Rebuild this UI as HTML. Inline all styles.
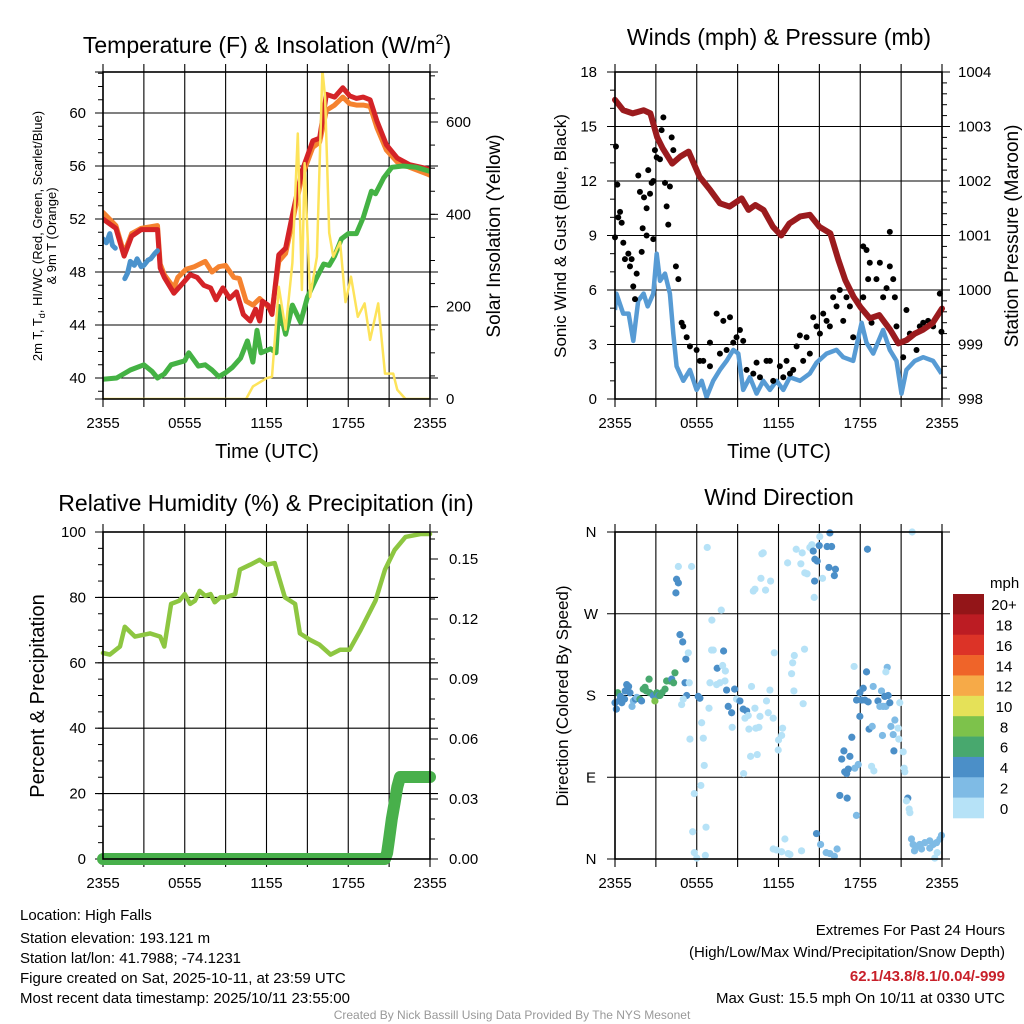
<!DOCTYPE html>
<html><head><meta charset="utf-8"><style>
html,body{margin:0;padding:0;background:#fff;}
svg{display:block;font-family:"Liberation Sans",Arial,sans-serif;}
</style></head><body>
<svg id="fig" width="1024" height="1024" viewBox="0 0 1024 1024" xmlns="http://www.w3.org/2000/svg">
<rect width="1024" height="1024" fill="#fff"/>
<text x="267" y="53" font-size="23" text-anchor="middle">Temperature (F) &amp; Insolation (W/m<tspan dy="-9" font-size="14">2</tspan><tspan dy="9">)</tspan></text>
<text x="779" y="45" font-size="23" text-anchor="middle">Winds (mph) &amp; Pressure (mb)</text>
<text x="266" y="511" font-size="23" text-anchor="middle">Relative Humidity (%) &amp; Precipitation (in)</text>
<text x="779" y="505" font-size="23" text-anchor="middle">Wind Direction</text>
<text x="267" y="458" font-size="20" text-anchor="middle">Time (UTC)</text>
<text x="779" y="458" font-size="20" text-anchor="middle">Time (UTC)</text>
<text transform="translate(42,236) rotate(-90)" font-size="13" text-anchor="middle">2m T, T<tspan dy="3" font-size="9">d</tspan><tspan dy="-3">, HI/WC (Red, Green, Scarlet/Blue)</tspan></text>
<text transform="translate(56,236) rotate(-90)" font-size="13" text-anchor="middle">&amp; 9m T (Orange)</text>
<text transform="translate(500,236) rotate(-90)" font-size="19" text-anchor="middle">Solar Insolation (Yellow)</text>
<text transform="translate(566,236) rotate(-90)" font-size="17" text-anchor="middle">Sonic Wind &amp; Gust (Blue, Black)</text>
<text transform="translate(1018,236) rotate(-90)" font-size="19" text-anchor="middle">Station Pressure (Maroon)</text>
<text transform="translate(44,696) rotate(-90)" font-size="20" text-anchor="middle">Percent &amp; Precipitation</text>
<text transform="translate(568,696) rotate(-90)" font-size="17" text-anchor="middle">Direction (Colored By Speed)</text>
<g font-size="15">
<text x="20" y="920">Location: High Falls</text>
<text x="20" y="943">Station elevation: 193.121 m</text>
<text x="20" y="963">Station lat/lon: 41.7988; -74.1231</text>
<text x="20" y="983">Figure created on Sat, 2025-10-11, at 23:59 UTC</text>
<text x="20" y="1003">Most recent data timestamp: 2025/10/11 23:55:00</text>
</g>
<g font-size="15" text-anchor="end">
<text x="1005" y="935">Extremes For Past 24 Hours</text>
<text x="1005" y="957">(High/Low/Max Wind/Precipitation/Snow Depth)</text>
<text x="1005" y="981" fill="#c8202a" font-weight="bold">62.1/43.8/8.1/0.04/-999</text>
<text x="1005" y="1003">Max Gust: 15.5 mph On 10/11 at 0330 UTC</text>
</g>
<text x="512" y="1019" font-size="12" fill="#999" text-anchor="middle">Created By Nick Bassill Using Data Provided By The NYS Mesonet</text>
<g id="plots"></g>
</svg>
<script>
// ---------- data ----------
const xTickLabels = ["2355","0555","1155","1755","2355"];
const tempTicks = [40,44,48,52,56,60];
const insolTicks = [0,200,400,600];
const windTicks = [0,3,6,9,12,15,18];
const presTicks = [998,999,1000,1001,1002,1003,1004];
const rhTicks = [0,20,40,60,80,100];
const precipTicks = ["0.00","0.03","0.06","0.09","0.12","0.15"];
const dirTicks = ["N","E","S","W","N"];
const speedBins = ["0","2","4","6","8","10","12","14","16","18","20+"];

const redHours = [0,0.95,1.55,2.1,2.8,4.0,4.2,4.5,5.2,5.9,6.4,6.9,7.4,7.9,8.3,8.8,9.3,9.8,10.3,10.8,11.2,11.5,11.7,12.1,12.4,12.9,13.4,13.9,14.6,15.4,15.9,16.4,17.0,17.6,18.1,18.6,19.1,19.6,20.1,20.8,21.6,22.5,23.8,24];
const redTemp  = [52,51.3,49.2,50.7,51.2,51.2,48.3,47.6,46.4,47.2,47.8,47.6,47.0,46.8,45.9,46.8,46.0,46.5,44.8,44.3,45.2,44.3,45.8,45.5,44.8,49.3,49.8,52.3,55.6,57.9,58.1,61.4,61.2,61.9,61.3,61.1,61.2,61.0,59.4,57.6,56.6,56.1,55.8,55.7];
const orangeHours = [0,0.95,1.55,2.1,2.8,4.0,4.2,4.5,5.2,5.5,6.1,6.7,7.5,8.0,8.5,9.0,9.6,10.0,10.5,11.0,11.5,12.0,12.4,12.9,13.4,13.9,14.6,15.4,15.9,16.4,17.0,17.6,18.1,18.6,19.1,19.6,20.1,20.8,21.6,22.5,23.8,24];
const orangeTemp  = [52.5,51.5,49.4,50.9,51.3,51.5,48.6,47.8,46.8,47.6,48.2,48.4,48.8,48.0,48.4,48.5,47.6,47.5,45.8,45.5,46.0,45.5,45.0,48.8,49.4,51.8,55.2,57.4,57.8,60.2,60.6,61.2,60.7,60.6,60.6,60.5,58.9,57.2,56.3,55.9,55.4,55.3];
const blueHours1 = [0,0.25,0.5,0.7,0.9];
const blueTemp1  = [50.5,50.2,50.9,50.0,49.8];
const blueHours2 = [1.6,1.8,2.0,2.3,2.5,2.8,3.0,3.3,3.5,3.8,4.0];
const blueTemp2  = [47.5,47.9,48.8,48.5,49.0,48.4,48.5,48.9,49.0,49.4,49.6];
const greenHours = [0,1,2,3,3.6,4.0,4.5,5.0,6.0,6.3,7.0,7.5,8.0,8.5,9.0,9.5,10.1,10.6,11.0,11.3,11.6,12.3,12.7,12.9,13.4,13.9,14.5,15.0,15.6,16.2,16.6,17.0,17.5,18.0,18.6,19.1,19.7,20.0,20.6,21.2,22.0,23.0,24];
const greenTemp  = [39.9,40.0,40.6,41.0,40.5,40.0,40.3,41.0,41.3,41.9,40.9,41.0,40.6,40.1,40.4,40.8,41.5,42.8,41.2,43.6,41.9,42.2,41.9,45.4,43.3,45.5,44.2,46.1,47.4,48.6,48.5,49.2,50.5,50.9,50.9,52.1,54.1,53.9,55.1,55.9,56.0,55.9,55.6];
const insolHours = [0,10.5,11.0,12.0,12.4,12.9,13.4,13.9,14.3,14.6,14.8,15.2,15.7,16.1,16.3,16.6,16.9,17.4,17.8,18.2,18.7,19.2,19.6,20.2,20.7,21.3,21.6,22.2,24];
const insolWm2   = [0,0,27,45,48,243,150,295,575,236,511,221,308,713,654,360,308,340,210,265,178,207,128,207,55,55,20,0,0];

const presHours = [0,0.6,1.3,2.1,2.6,3.1,3.5,4.2,4.8,5.4,6.2,7.0,7.7,8.4,9.3,9.8,10.3,10.9,11.6,12.2,12.8,13.6,14.3,15.0,15.8,16.4,16.9,17.5,18.0,18.7,19.4,20.2,20.8,21.4,22.0,22.6,23.3,24];
const presMb = [1003.49,1003.3,1003.24,1003.3,1003.24,1002.8,1002.6,1002.32,1002.45,1002.54,1002.08,1001.83,1001.59,1001.53,1001.68,1001.47,1001.56,1001.47,1001.16,1001.0,1001.22,1001.35,1001.38,1001.16,1001.04,1000.55,1000.18,999.88,999.69,999.48,999.54,999.27,999.02,999.08,999.2,999.27,999.39,999.66];
const windHours = [0,0.1,0.6,1.0,1.34,1.7,2.1,2.4,2.81,3.06,3.3,3.67,4.03,4.28,4.52,5.01,5.5,5.99,6.36,6.72,7.21,7.7,8.19,8.68,9.05,9.41,9.9,10.39,10.88,11.37,11.86,12.35,12.84,13.57,14.3,14.79,15.53,16.26,16.75,17.48,18.1,18.46,18.95,19.68,20.17,20.66,21.03,21.39,22.0,22.62,23.35,23.96];
const windMph = [4.9,5.8,4.7,4.7,3.2,5.4,5.8,5.1,5.8,8.0,6.5,6.9,5.8,3.6,1.8,1.0,1.6,0.5,1.0,0.1,1.0,1.6,2.1,2.7,2.5,0.5,1.2,0.3,1.0,0.5,1.0,0.5,1.2,1.0,1.4,2.0,2.5,2.7,2.3,2.1,4.2,3.1,2.5,3.8,2.7,2.1,0.3,1.6,2.1,2.3,2.1,1.4];
const gustHours = [0,0.07,0.17,0.24,0.37,0.49,0.61,0.73,0.98,1.1,1.22,1.34,1.47,1.59,1.71,1.83,1.96,2.03,2.13,2.32,2.32,2.44,2.57,2.69,2.81,2.81,2.93,3.06,3.3,3.42,3.55,3.67,3.79,3.91,4.03,4.16,4.28,4.47,4.65,4.89,5.01,5.26,5.5,5.99,6.23,6.48,6.97,6.97,7.46,7.7,7.95,8.19,8.44,8.68,8.92,9.17,9.41,9.66,10.15,10.39,10.64,11.12,11.37,11.61,12.1,12.35,12.59,12.84,13.08,13.33,13.57,13.81,14.06,14.3,14.55,14.79,15.04,15.28,15.53,15.77,16.01,16.26,16.5,16.75,16.99,17.24,17.48,17.73,18.22,18.22,18.46,18.58,18.7,18.83,19.19,19.44,19.68,19.93,20.17,20.42,20.54,20.17,20.66,21.15,21.39,21.64,22.13,22.37,22.62,22.98,23.35,23.84,23.96];
const gustMph = [8.9,13.9,11.8,10.0,10.3,9.7,8.6,7.7,8.0,7.3,7.7,6.2,5.5,6.9,12.3,11.4,8.1,9.4,11.1,10.5,9.0,12.6,11.3,11.9,8.8,12.0,13.7,13.3,13.2,14.8,15.5,11.9,10.6,9.6,11.7,14.4,13.7,7.3,6.6,4.2,4.0,3.4,2.9,2.7,2.1,2.1,3.1,1.8,4.7,2.5,4.3,2.7,4.5,3.1,3.4,3.8,3.2,1.6,1.4,2.0,1.2,2.1,2.1,1.0,1.8,1.2,2.1,1.4,1.6,2.9,3.5,2.1,3.4,2.5,4.5,4.0,3.6,4.7,4.3,4.0,5.6,5.1,6.0,4.3,5.6,5.1,3.4,5.4,8.4,5.6,8.2,6.6,7.5,4.2,6.6,7.5,5.6,6.1,7.3,6.6,5.6,9.2,4.0,2.3,4.9,3.6,2.7,4.0,4.2,4.3,4.0,5.8,3.7];

const rhHours = [0,0.5,1.25,1.6,2.35,3.45,4.2,4.5,5.0,5.6,6.0,6.4,6.75,7.1,7.5,7.9,8.2,8.6,9.0,9.7,10.05,10.8,11.5,12.0,12.6,13.35,14.1,14.45,15.2,15.9,16.7,17.4,18.1,18.9,20.0,20.7,21.4,22.2,23.3,24];
const rhPct = [63,62.5,65,71,68,69,68,65,78,79,81,78,79,82,80.5,81,78.5,80,80,81,88.5,90,91.5,90,90.5,80,78,69,67,65.5,62.5,64,64,70,79,88.5,94.5,98.5,99.4,99.4];
const precipHours = [0,20.7,20.85,21.0,21.2,21.4,21.6,21.8,22.2,24];
const precipIn = [0,0,0.003,0.01,0.02,0.028,0.036,0.041,0.041,0.041];

const dirHours = [0,0.1,0.2,0.3,0.4,0.5,0.7,0.75,0.86,1.0,1.1,1.25,1.35,1.5,1.6,1.83,1.95,2.07,2.2,2.3,2.5,2.55,2.81,2.93,3.06,3.2,3.3,3.45,3.67,3.79,4.03,4.16,4.4,4.3,4.47,4.52,4.65,4.65,4.77,4.97,5.2,5.38,5.14,5.45,5.26,4.89,5.01,5.62,5.5,5.82,5.7,5.82,6.0,6.11,6.23,6.36,6.48,6.55,6.3,6.68,6.63,6.77,6.9,6.97,7.09,7.21,7.11,7.8,7.46,7.7,8.07,7.5,7.9,7.97,8.1,8.19,8.31,8.56,8.6,8.78,8.92,9.17,9.41,9.66,9.54,9.78,9.83,10.34,10.56,9.95,10.44,9.44,10.27,10.64,11.12,11.25,11.61,10.02,11.37,10.15,10.27,10.71,11.05,11.42,10.78,10.88,11.69,12.3,12.23,12.0,11.98,11.61,11.85,12.23,12.47,12.71,12.84,13.69,13.16,13.04,12.96,13.13,13.81,13.91,12.67,13.3,13.74,13.64,13.93,14.1,14.3,14.45,14.62,14.55,14.67,14.84,14.65,14.99,15.03,15.23,15.57,15.77,15.9,15.7,16.18,16.1,18.53,21.81,14.79,15.09,15.5,15.77,16.1,16.3,16.5,17.04,17.72,16.86,17.0,17.6,17.85,16.64,16.8,17.24,17.12,17.38,17.55,18.46,17.97,18.22,18.1,17.73,18.34,18.58,18.95,19.56,19.8,20.05,19.3,19.44,19.68,19.88,20.17,19.98,19.88,17.97,18.65,18.88,19.63,20.25,20.54,20.42,20.78,20.83,20.9,20.47,21.15,18.83,19.0,21.22,21.27,21.49,21.39,21.59,21.64,21.76,21.88,22.13,22.37,22.74,23.1,23.35,23.6,23.84,23.96,21.98,22.5,23.1,23.65,23.47];
const dirDeg = [172,165,183,174,179,172,176,185,192,190,183,168,174,176,178,176,174,187,189,185,198,183,180,174,183,180,180,183,187,196,196,198,205,194,293,308,304,322,247,239,220,227,194,194,180,170,176,322,132,72,30,7,1,179,177,150,133,103,81,35,4,343,166,194,230,230,263,274,192,194,196,210,213,229,207,186,168,161,145,187,176,174,165,163,155,158,143,144,145,113,115,94,166,157,174,161,155,190,186,295,297,309,296,306,336,337,227,144,136,131,120,11,10,8,22,6,5,9,224,216,204,185,171,231,326,341,337,325,315,314,343,346,288,339,330,328,306,345,355,309,344,359,344,321,319,312,341,360,28,16,7,6,3,11,70,67,48,96,94,100,104,110,119,113,99,134,212,206,183,188,175,175,175,173,190,185,179,180,174,168,168,168,172,211,206,157,143,146,136,146,153,137,144,132,172,119,118,102,97,100,96,67,64,55,51,22,16,14,16,18,20,16,18,22,26,9,11,12,7,1];
const dirMph = [5,5,7,5,5,5,5,5,5,5,5,3,3,5,3,7,5,7,7,7,7,7,5,9,7,5,7,7,7,7,7,5,7,7,5,5,5,1,5,5,5,1,5,1,5,1,1,1,1,1,1,1,1,5,5,1,1,1,1,1,1,1,1,1,1,1,1,1,1,1,1,5,1,5,1,5,5,5,1,5,1,5,5,5,1,1,1,1,1,1,1,1,1,1,1,1,1,1,1,1,1,1,1,1,1,1,1,1,1,1,1,1,1,1,1,1,1,1,1,1,1,1,1,1,1,1,1,1,1,1,1,1,1,5,5,5,5,5,1,1,5,5,5,5,5,5,5,1,5,3,3,3,3,3,5,5,3,5,5,3,3,5,5,5,5,5,1,5,5,5,5,5,5,5,3,3,5,5,5,3,3,3,5,3,1,5,5,3,3,3,3,3,1,1,1,5,1,1,1,1,1,5,1,1,1,3,3,3,3,3,3,3,3,3,3,3,3,3,1,1];
const binColors = ["#b6e2f7","#7fbbe5","#4b8fc8","#48a86e","#7dc24b","#e5e158","#f6aa48","#ef6429","#dc3327","#bc1c23","#931518"];

// ---------- helpers ----------
const NS="http://www.w3.org/2000/svg";
const root=document.getElementById('plots');
function mk(tag,attrs,parent){const e=document.createElementNS(NS,tag);for(const k in attrs)e.setAttribute(k,attrs[k]);(parent||root).appendChild(e);return e;}
function txt(s,attrs,parent){const e=mk('text',attrs,parent);e.textContent=s;return e;}
function lin(d0,d1,r0,r1){return v=>r0+(v-d0)*(r1-r0)/(d1-d0);}
function pathFrom(xs,ys,sx,sy){return xs.map((h,i)=>(i?'L':'M')+sx(h).toFixed(1)+','+sy(ys[i]).toFixed(1)).join('');}

function frame(name,x0,y0,w,h,ygridVals,sy){
  const g=mk('g',{});
  
  
  const sx=lin(0,24,x0,x0+w);
  for(let k=0;k<=8;k++){const x=sx(k*3);mk('line',{x1:x,y1:y0-8,x2:x,y2:y0+h+8,stroke:'#000','stroke-width':1.1},g);}
  ygridVals.forEach(v=>{const y=sy(v);mk('line',{x1:x0-8,y1:y,x2:x0+w+8,y2:y,stroke:'#000','stroke-width':1.1},g);});
  mk('line',{x1:x0-8,y1:y0,x2:x0+w+8,y2:y0,stroke:'#000','stroke-width':1.1},g);
  mk('line',{x1:x0-8,y1:y0+h,x2:x0+w+8,y2:y0+h,stroke:'#000','stroke-width':1.1},g);
  const xl=mk('g',{'font-size':15,'text-anchor':'middle'});
  
  
  xTickLabels.forEach((s,i)=>txt(s,{x:sx(i*6),y:y0+h+29},xl));
  return sx;
}
function border(x0,y0,w,h){mk('rect',{x:x0,y:y0,width:w,height:h,fill:'none',stroke:'#000','stroke-width':1.6});}
function minor(x,ys,dir){ys.forEach(y=>mk('line',{x1:x,y1:y,x2:x+dir*5,y2:y,stroke:'#000','stroke-width':1}));}

// ---------- panel 1: temperature ----------
(function(){
 const x0=103,y0=72,w=327,h=327;
 const sy=lin(40,60,378,113), si=lin(0,600,399,122);
 const sx=frame('temperature',x0,y0,w,h,tempTicks,sy);
 const yl=mk('g',{'font-size':15,'text-anchor':'end'});
 
 
 tempTicks.forEach(v=>txt(String(v),{x:86,y:sy(v)+5},yl));
 const rl=mk('g',{'font-size':15});
 
 
 insolTicks.forEach(v=>{txt(String(v),{x:446,y:si(v)+5},rl);mk('line',{x1:x0+w,y1:si(v),x2:x0+w+8,y2:si(v),stroke:'#000'});});
 const mn=[];for(let v=39;v<=63;v++)mn.push(sy(v));minor(x0,mn,-1);
 const mr=[];for(let v=0;v<=700;v+=50)mr.push(si(v));minor(x0+w,mr,1);
 const cp=mk('clipPath',{id:'c1'});mk('rect',{x:x0,y:y0,width:w,height:h},cp);
 const series=[[orangeHours,orangeTemp,'#f5822f','orange-9m-temp-line',sy,5],[redHours,redTemp,'#d42327','red-2m-temp-line',sy,5],[blueHours1,blueTemp1,'#4a92cc','blue-windchill-line-a',sy,5],[blueHours2,blueTemp2,'#4a92cc','blue-windchill-line-b',sy,5],[greenHours,greenTemp,'#44b244','green-dewpoint-line',sy,5],[insolHours,insolWm2,'#fde35a','yellow-insolation-line',si,2.5]];
 series.forEach(s=>{const p=mk('path',{d:pathFrom(s[0],s[1],sx,s[4]),fill:'none',stroke:s[2],'stroke-width':s[5],'stroke-linejoin':'round','stroke-linecap':'round','clip-path':'url(#c1)'});
  
  });
 border(x0,y0,w,h);
})();

// ---------- panel 2: winds ----------
(function(){
 const x0=615,y0=72,w=327,h=327;
 const sy=lin(0,18,399,72), sp=lin(998,1004,399,72);
 const sx=frame('winds',x0,y0,w,h,windTicks,sy);
 const yl=mk('g',{'font-size':15,'text-anchor':'end'});
 
 
 windTicks.forEach(v=>txt(String(v),{x:597,y:sy(v)+5},yl));
 const rl=mk('g',{'font-size':15});
 
 
 presTicks.forEach(v=>txt(String(v),{x:958,y:sp(v)+5},rl));
 const mr=[];for(let v=998;v<=1004;v+=0.2)mr.push(sp(v));minor(x0+w,mr,1);
 const mn=[];for(let v=0;v<=18;v+=1)mn.push(sy(v));minor(x0,mn,-1);
 const cp=mk('clipPath',{id:'c2'});mk('rect',{x:x0,y:y0,width:w,height:h},cp);
 const wl=mk('path',{d:pathFrom(windHours,windMph,sx,sy),fill:'none',stroke:'#579bd4','stroke-width':4.5,'stroke-linejoin':'round','clip-path':'url(#c2)'});
 
 
 const gg=mk('g',{fill:'#000'});
 
 
 gustHours.forEach((hh,i)=>mk('circle',{cx:sx(hh),cy:sy(gustMph[i]),r:3},gg));
 const pl=mk('path',{d:pathFrom(presHours,presMb,sx,sp),fill:'none',stroke:'#9b1b1e','stroke-width':6,'stroke-linejoin':'round','stroke-linecap':'round'});
 
 
 border(x0,y0,w,h);
})();

// ---------- panel 3: RH ----------
(function(){
 const x0=103,y0=532,w=327,h=327;
 const sy=lin(0,100,859,532), sp=lin(0,0.03,859,799);
 const sx=frame('humidity',x0,y0,w,h,rhTicks,sy);
 const yl=mk('g',{'font-size':15,'text-anchor':'end'});
 
 
 rhTicks.forEach(v=>txt(String(v),{x:86,y:sy(v)+5},yl));
 const rl=mk('g',{'font-size':15});
 
 
 precipTicks.forEach(s=>{const y=sp(parseFloat(s));txt(s,{x:449,y:y+5},rl);mk('line',{x1:x0+w,y1:y,x2:x0+w+8,y2:y,stroke:'#000'});});
 const mr=[];for(let v=0;v<=0.16;v+=0.01)mr.push(sp(v));minor(x0+w,mr,1);
 const mn=[];for(let v=0;v<=100;v+=5)mn.push(sy(v));minor(x0,mn,-1);
 const rh=mk('path',{d:pathFrom(rhHours,rhPct,sx,sy),fill:'none',stroke:'#8dc641','stroke-width':4.5,'stroke-linejoin':'round','stroke-linecap':'round'});
 
 
 const pr=mk('path',{d:pathFrom(precipHours,precipIn,sx,sp),fill:'none',stroke:'#48b04b','stroke-width':12,'stroke-linejoin':'round','stroke-linecap':'round'});
 
 
 border(x0,y0,w,h);
})();

// ---------- panel 4: wind direction ----------
(function(){
 const x0=615,y0=532,w=327,h=327;
 const sy=lin(0,360,859,532);
 const sx=frame('wind-direction',x0,y0,w,h,[0,90,180,270,360],sy);
 const yl=mk('g',{'font-size':15,'text-anchor':'middle'});
 
 
 dirTicks.forEach((s,i)=>txt(s,{x:591,y:sy(i*90)+5},yl));
 const dg=mk('g',{});
 
 
 dirHours.forEach((hh,i)=>{const b=Math.min(10,Math.floor(dirMph[i]/2));
   mk('circle',{cx:sx(hh),cy:sy(dirDeg[i]),r:3.6,fill:binColors[b]},dg);});
 border(x0,y0,w,h);
 const cb=mk('g',{});
 
 
 const n=speedBins.length, bh=224/n;
 for(let i=0;i<n;i++){mk('rect',{x:953,y:594+bh*i,width:31,height:bh+0.3,fill:binColors[n-1-i]},cb);}
 txt('mph',{x:990,y:588,'font-size':15},cb);
 const labs=speedBins.slice().reverse();
 for(let i=0;i<n;i++){txt(labs[i],{x:1004,y:594+bh*i+bh/2+6,'font-size':15,'text-anchor':'middle'},cb);}
})();
</script>
</body></html>
